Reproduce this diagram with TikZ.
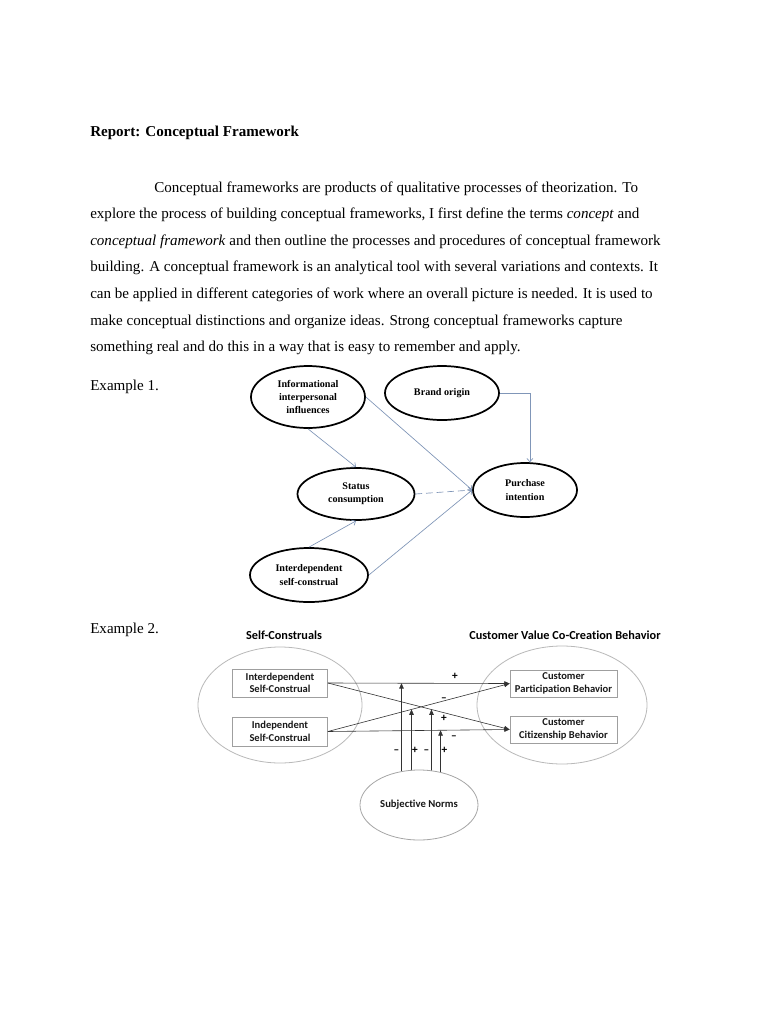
\documentclass[tikz,border=0pt]{standalone}
\usepackage{fontspec}
\setmainfont{Liberation Serif}
\newfontfamily\calib[Ligatures=NoCommon]{Carlito}
\usetikzlibrary{arrows.meta,positioning,calc,backgrounds,shapes.geometric}
\newcommand{\pxu}{0.75pt}
\definecolor{linkblue}{RGB}{128,150,184}

\begin{document}
\begin{tikzpicture}[x=\pxu, y=-\pxu, >=Stealth,
  bubble/.style={ellipse, draw, line width=1.3pt, inner sep=0pt, align=center,
    font=\bfseries\fontsize{7.6}{10}\selectfont},
  link/.style={draw=linkblue, line width=0.5pt, -{Straight Barb[length=2.5pt,width=4.5pt]}},
  bigoval/.style={ellipse, draw=gray!55, line width=0.6pt, inner sep=0pt},
  construct/.style={draw=gray!75, line width=0.6pt, inner sep=0pt, align=center,
    font=\calib\bfseries\fontsize{7.9}{9.4}\selectfont, text=black!90},
  flow/.style={draw=black!80, line width=0.45pt, -{Triangle[length=4pt,width=3.4pt]}},
  sign/.style={font=\calib\bfseries\fontsize{8.5}{8.5}\selectfont, inner sep=0pt,
    text height=0.6em, text depth=0pt},
  heading/.style={font=\calib\bfseries\fontsize{9.2}{11}\selectfont, inner sep=0pt},
  bodyline/.style={anchor=base west, inner sep=0pt, font=\fontsize{11.3}{20}\selectfont}]

    % pagina
    \begin{scope}[on background layer]
        \fill[white] (0,0) rectangle (768,1024);
    \end{scope}
    \useasboundingbox (0,0) rectangle (768,1024);

    % texto do relatorio
    \node[bodyline, font=\bfseries\fontsize{11.3}{20}\selectfont] (title) at (90,136) {Report: Conceptual Framework};
    \node[bodyline] (line1) at (154,192) {Conceptual frameworks are products of qualitative processes of theorization. To};
    \node[bodyline] (line2) at (90,218.5) {explore the process of building conceptual frameworks, I first define the terms \emph{concept} and};
    \node[bodyline] (line3) at (90,245) {\emph{conceptual framework} and then outline the processes and procedures of conceptual framework};
    \node[bodyline] (line4) at (90,271.5) {building. A conceptual framework is an analytical tool with several variations and contexts. It};
    \node[bodyline] (line5) at (90,298) {can be applied in different categories of work where an overall picture is needed. It is used to};
    \node[bodyline] (line6) at (90,325) {make conceptual distinctions and organize ideas. Strong conceptual frameworks capture};
    \node[bodyline] (line7) at (90,351.5) {something real and do this in a way that is easy to remember and apply.};
    \node[bodyline] (ex1) at (90,390) {Example 1.};
    \node[bodyline] (ex2) at (90,633) {Example 2.};

    % Exemplo 1: elipses
    \node[bubble, minimum width=114*\pxu, minimum height=62*\pxu] (info) at (308,397) {Informational\\interpersonal\\influences};
    \node[bubble, minimum width=114*\pxu, minimum height=54*\pxu] (brand) at (442,393) {Brand origin};
    \node[bubble, minimum width=117*\pxu, minimum height=52*\pxu] (status) at (356,494) {Status\\consumption};
    \node[bubble, minimum width=118*\pxu, minimum height=54*\pxu] (interdep) at (309,575) {Interdependent\\self-construal};
    \node[bubble, minimum width=104*\pxu, minimum height=54*\pxu] (purchase) at (525,490) {Purchase\\intention};

    % setas: todas chegam no lado esquerdo de purchase
    \draw[link] (info.south) -- (status.north);
    \draw[link] (interdep.north) -- (status.south);
    \draw[link] (info.east) -- (purchase.west);
    \draw[link, dashed, dash pattern=on 5pt off 3pt] (status.east) -- (purchase.west);
    \draw[link] (interdep.east) -- (purchase.west);
    \draw[link] (brand.east) -| (purchase.80);

    % Exemplo 2
    \node[heading] (selfhead) at (284,635) {Self-Construals};
    \node[heading] (cvchead) at (565,635) {Customer Value Co-Creation Behavior};
    \node[bigoval, minimum width=164*\pxu, minimum height=116*\pxu] (selfoval) at (280,705) {};
    \node[bigoval, minimum width=170*\pxu, minimum height=118*\pxu] (cvcoval) at (562,705) {};

    \node[construct, minimum width=95*\pxu, minimum height=28*\pxu] (interbox) at (280,683) {Interdependent\\Self-Construal};
    \node[construct, minimum width=95*\pxu, minimum height=29*\pxu] (indepbox) at (280,731.5) {Independent\\Self-Construal};
    \node[construct, minimum width=107*\pxu, minimum height=27*\pxu] (partbox) at (563.5,683.5) {Customer\\Participation Behavior};
    \node[construct, minimum width=107*\pxu, minimum height=27*\pxu] (citbox) at (563.5,729.5) {Customer\\Citizenship Behavior};

    \node[ellipse, draw=gray!70, line width=0.6pt, fill=white, minimum width=118*\pxu, minimum height=70*\pxu,
      inner sep=0pt, font=\calib\bfseries\fontsize{8}{9}\selectfont, text=black!90] (norms) at (419,805) {Subjective Norms};

    % efeitos diretos
    \draw[flow] (interbox.east) -- (partbox.west);
    \draw[flow] (interbox.east) -- (citbox.west);
    \draw[flow] (indepbox.east) -- (partbox.west);
    \draw[flow] (indepbox.east) -- (citbox.west);

    % pontos de moderacao sobre as setas
    \coordinate (modA) at ($(interbox.east)!0.405!(partbox.west)$);
    \coordinate (modB) at ($(indepbox.east)!0.46!(partbox.west)$);
    \coordinate (modC) at ($(interbox.east)!0.57!(citbox.west)$);
    \coordinate (modD) at ($(indepbox.east)!0.62!(citbox.west)$);

    % linhas atras da elipse (preenchida de branco)
    \begin{scope}[on background layer]
        \draw[flow] (modA |- norms.center) -- (modA);
        \draw[flow] (modB |- norms.center) -- (modB);
        \draw[flow] (modC |- norms.center) -- (modC);
        \draw[flow] (modD |- norms.center) -- (modD);
    \end{scope}

    % sinais
    \node[sign] (sgnA) at (455,675) {+};
    \node[sign] (sgnB) at (444,697) {–};
    \node[sign] (sgnC) at (444,717) {+};
    \node[sign] (sgnD) at (454,735) {–};
    \node[sign] (sgnE) at (396.5,749) {–};
    \node[sign] (sgnF) at (415,749) {+};
    \node[sign] (sgnG) at (426.5,749) {–};
    \node[sign] (sgnH) at (444.5,749) {+};

\end{tikzpicture}
\end{document}
